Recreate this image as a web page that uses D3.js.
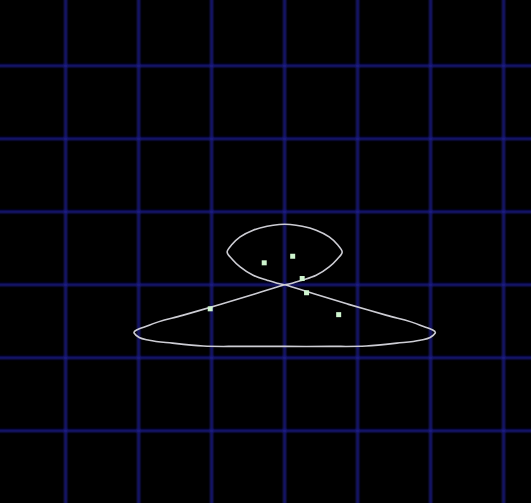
<!DOCTYPE html>
<html>
<head>
<meta charset="utf-8">
<script src="https://cdn.jsdelivr.net/npm/d3@7"></script>
<style>
  html, body { margin: 0; padding: 0; background: #000; }
  svg { display: block; }
</style>
</head>
<body>
<div id="chart"></div>
<script>
// Grid ticks (data units)
const gridX = [-3, -2, -1, 0, 1, 2, 3];
const gridY = [-2, -1, 0, 1, 2, 3];

// Figure-eight curve (data units)
const curveX = [0, 0.103, 0.240, 0.432, 0.610, 0.719, 0.788, 0.719, 0.610, 0.432, 0.240, 0.075, 0,
  -0.075, -0.240, -0.432, -0.610, -0.719, -0.788, -0.719, -0.610, -0.432, -0.240, -0.103, 0,
  0.103, 0.304, 0.852, 1.400, 1.856, 2.062, 1.993, 1.856, 1.537, 1.116, 0.623, 0,
  -0.623, -1.116, -1.537, -1.856, -1.993, -2.062, -1.856, -1.400, -0.852, -0.304, -0.103, 0];
const curveY = [0, 0.021, 0.062, 0.130, 0.244, 0.349, 0.445, 0.555, 0.655, 0.747, 0.801, 0.825, 0.829,
  0.825, 0.801, 0.747, 0.655, 0.555, 0.445, 0.349, 0.244, 0.130, 0.062, 0.021, 0,
  -0.031, -0.094, -0.262, -0.420, -0.555, -0.664, -0.723, -0.760, -0.800, -0.840, -0.845, -0.845,
  -0.845, -0.840, -0.800, -0.760, -0.723, -0.664, -0.555, -0.420, -0.262, -0.094, -0.031, 0];

// Scatter points
const pointX = [-0.28, 0.11, 0.24, 0.30, -1.02, 0.74];
const pointY = [0.30, 0.39, 0.085, -0.11, -0.33, -0.41];

const width = 531;
const height = 503;

const svg = d3.select("#chart")
    .append("svg")
    .attr("width", width)
    .attr("height", height);

svg.append("rect")
    .attr("width", width)
    .attr("height", height)
    .attr("fill", "#000");

const defs = svg.append("defs");
defs.append("filter")
    .attr("id", "soft")
    .attr("x", "-5%").attr("y", "-5%")
    .attr("width", "110%").attr("height", "110%")
    .append("feGaussianBlur")
    .attr("stdDeviation", 1);

const x = d3.scaleLinear().domain([-3.9, 3.375]).range([0, width]);
const y = d3.scaleLinear().domain([-2.99, 3.9]).range([height, 0]);

// Grid
const grid = svg.append("g").attr("filter", "url(#soft)");
grid.selectAll("line.v")
    .data(gridX)
    .enter()
    .append("line")
    .attr("class", "v")
    .attr("x1", d => x(d))
    .attr("x2", d => x(d))
    .attr("y1", -5)
    .attr("y2", height + 5)
    .attr("stroke", "#1c1c8e")
    .attr("stroke-width", 2.5);

grid.selectAll("line.h")
    .data(gridY)
    .enter()
    .append("line")
    .attr("class", "h")
    .attr("y1", d => y(d))
    .attr("y2", d => y(d))
    .attr("x1", -5)
    .attr("x2", width + 5)
    .attr("stroke", "#1c1c8e")
    .attr("stroke-width", 2.5);

// Curve
const pts = curveX.map((v, i) => [v, curveY[i]]);
const line = d3.line()
    .x(d => x(d[0]))
    .y(d => y(d[1]))
    .curve(d3.curveCatmullRom.alpha(1));

svg.append("path")
    .datum(pts)
    .attr("d", line)
    .attr("fill", "none")
    .attr("stroke", "#cdcdd4")
    .attr("stroke-width", 1.6);

// Points
svg.append("g")
    .selectAll("rect")
    .data(pointX.map((v, i) => [v, pointY[i]]))
    .enter()
    .append("rect")
    .attr("x", d => x(d[0]) - 2.5)
    .attr("y", d => y(d[1]) - 2.5)
    .attr("width", 5)
    .attr("height", 5)
    .attr("fill", "#cff5cf");
</script>
</body>
</html>
